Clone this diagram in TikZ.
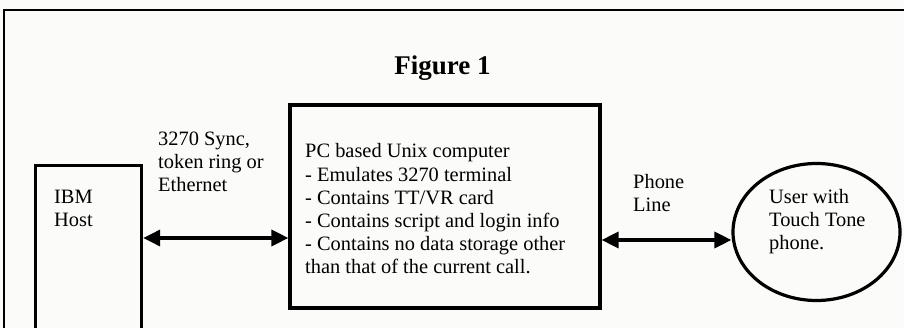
\documentclass[tikz,border=0pt]{standalone}
\usepackage{fontspec}
\setmainfont{Liberation Serif}
\usetikzlibrary{arrows.meta,shapes.geometric}
\definecolor{paper}{RGB}{251,251,249}
\tikzset{
  boxline/.style={draw=black, line width=3.2pt, inner sep=0pt},
  txt/.style={anchor=base west, align=left, inner sep=0pt, font=\fontsize{20.4}{23.2}\selectfont},
  arr/.style={line width=3.4pt, {Triangle[length=17pt,width=16pt]}-{Triangle[length=17pt,width=16pt]}}
}
\begin{document}
\begin{tikzpicture}[x=1pt,y=-1pt]
\useasboundingbox (0,0) rectangle (904,328);
\fill[paper] (0,0) rectangle (904,328);
% outer frame (extends past the lower and right edges)
\node[draw=black, line width=2pt, anchor=north west, minimum width=920pt, minimum height=360pt, inner sep=0pt] (frame) at (3,9) {};
% title
\node[anchor=base, inner sep=0pt, font=\bfseries\fontsize{27}{30}\selectfont] (title) at (442.5,75) {Figure 1};
% IBM host box
\node[boxline, anchor=north west, minimum width=106pt, minimum height=220pt] (ibm) at (34,164) {};
\node[txt] (ibmtext) at (54,227) {IBM\\Host};
% PC box
\node[boxline, minimum width=310pt, minimum height=203pt] (pc) at (445,206.5) {};
\node[txt] (pctext) at (305,274) {PC based Unix computer\\- Emulates 3270 terminal\\- Contains TT/VR card\\- Contains script and login info\\- Contains no data storage other\\than that of the current call.};
% user ellipse
\node[boxline, ellipse, minimum width=167pt, minimum height=137pt] (user) at (816.5,232) {};
\node[txt] (usertext) at (769,250) {User with\\Touch Tone\\phone.};
% connectors
\draw[arr] (ibm.east |- 0,238) -- (pc.west |- 0,238);
\draw[arr] (pc.east |- 0,240) -- (user.west |- 0,240);
% labels
\node[txt] (netlabel) at (158,192) {3270 Sync,\\token ring or\\Ethernet};
\node[txt] (phonelabel) at (633,212) {Phone\\Line};
\end{tikzpicture}
\end{document}
